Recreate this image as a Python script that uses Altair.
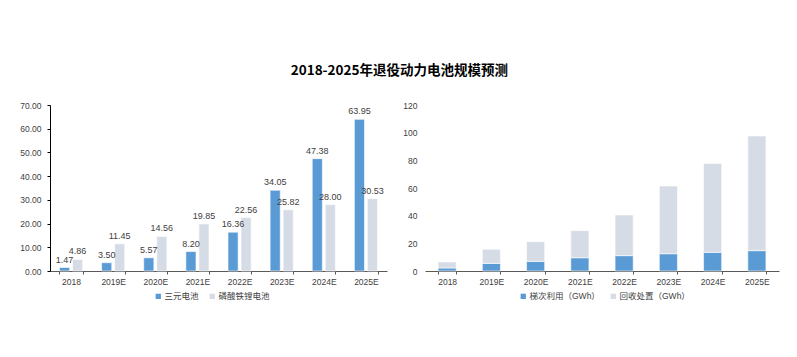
import altair as alt
import pandas as pd

years = ["2018", "2019E", "2020E", "2021E", "2022E", "2023E", "2024E", "2025E"]
ncm = [1.47, 3.50, 5.57, 8.20, 16.36, 34.05, 47.38, 63.95]
lfp = [4.86, 11.45, 14.56, 19.85, 22.56, 25.82, 28.00, 30.53]
left_series = ["三元电池", "磷酸铁锂电池"]

cascade = [2.2, 5.5, 7.0, 9.6, 11.1, 12.5, 13.5, 14.7]
recycle = [4.3, 10.2, 14.2, 19.6, 29.4, 48.9, 64.3, 82.9]
right_series = ["梯次利用（GWh）", "回收处置（GWh）"]

title_text = "2018-2025年退役动力电池规模预测"

BLUE = "#5B9BD5"
GREY = "#D6DCE5"
FONT = "Liberation Sans, Noto Sans CJK SC"

left_rows = []
for i, y in enumerate(years):
    left_rows.append({"year": y, "series": left_series[0], "value": ncm[i], "o": 0})
    left_rows.append({"year": y, "series": left_series[1], "value": lfp[i], "o": 1})
ldf = pd.DataFrame(left_rows)

right_rows = []
for i, y in enumerate(years):
    right_rows.append({"year": y, "series": right_series[0], "value": cascade[i], "o": 0})
    right_rows.append({"year": y, "series": right_series[1], "value": recycle[i], "o": 1})
rdf = pd.DataFrame(right_rows)

xaxis = alt.Axis(
    title=None, labelAngle=0, labelFontSize=8.5, labelColor="#404040", labelFont=FONT,
    domainColor="#595959", tickColor="#595959", tickSize=3, tickBand="extent",
    labelPadding=3,
)

yaxis_left = alt.Axis(title=None, values=list(range(0, 71, 10)), format=".2f",
                      grid=False, labelFontSize=8.5, labelColor="#404040", labelFont=FONT,
                      domainColor="#000000", tickColor="#000000", tickSize=3,
                      labelPadding=6, labelOverlap=False)
yscale_left = alt.Scale(domain=[0, 70], nice=False)

lbase = alt.Chart(ldf).encode(
    x=alt.X("year:N", sort=years, axis=xaxis,
            scale=alt.Scale(paddingInner=0.45, paddingOuter=0.225)),
    xOffset=alt.XOffset("series:N", sort=left_series, scale=alt.Scale(paddingInner=0.22)),
    y=alt.Y("value:Q", scale=yscale_left, axis=yaxis_left),
)
lbars = lbase.mark_bar(stroke="white", strokeWidth=0.6).encode(
    color=alt.Color("series:N", sort=left_series,
                    scale=alt.Scale(domain=left_series, range=[BLUE, GREY]),
                    legend=alt.Legend(title=None, orient="none", direction="horizontal",
                                      legendX=104, legendY=187, symbolType="square",
                                      symbolSize=28, symbolStrokeWidth=0,
                                      labelFontSize=8.5, labelFont=FONT, labelColor="#404040",
                                      labelOffset=2, columnPadding=9)),
)
ltext = lbase.mark_text(baseline="bottom", dy=-3, fontSize=9, font=FONT, color="#404040").encode(
    text=alt.Text("value:Q", format=".2f"),
)
left = alt.layer(lbars, ltext).properties(width=337, height=166)

rbars = alt.Chart(rdf).mark_bar(stroke="white", strokeWidth=0.6).encode(
    x=alt.X("year:N", sort=years, axis=xaxis,
            scale=alt.Scale(paddingInner=0.59, paddingOuter=0.295)),
    y=alt.Y("value:Q", stack="zero", scale=alt.Scale(domain=[0, 120], nice=False),
            axis=alt.Axis(title=None, values=list(range(0, 121, 20)), format="d",
                          grid=False, domain=False, ticks=False, labelFontSize=8.5,
                          labelColor="#404040", labelFont=FONT, labelPadding=8,
                          labelOverlap=False)),
    color=alt.Color("series:N", sort=right_series,
                    scale=alt.Scale(domain=right_series, range=[BLUE, GREY]),
                    legend=alt.Legend(title=None, orient="none", direction="horizontal",
                                      legendX=94, legendY=187, symbolType="square",
                                      symbolSize=28, symbolStrokeWidth=0,
                                      labelFontSize=8.5, labelFont=FONT, labelColor="#404040",
                                      labelOffset=2, columnPadding=9)),
    order=alt.Order("o:Q", sort="ascending"),
).properties(width=354, height=166)

chart = alt.hconcat(left, rbars, spacing=15).resolve_scale(color="independent").properties(
    title=alt.TitleParams(title_text, anchor="middle", fontSize=13.5, fontWeight="bold",
                          font="Noto Sans CJK SC", color="#000000", offset=24),
    padding={"left": 19, "top": 63, "right": 5, "bottom": 5},
    background="white",
).configure_view(stroke=None)

chart.save("out.html", embed_options={"renderer": "svg", "actions": False})
